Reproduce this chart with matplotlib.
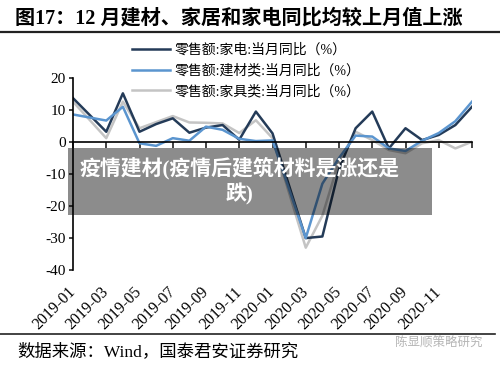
import numpy as np
import matplotlib
matplotlib.use('Agg')
import matplotlib.pyplot as plt
from matplotlib.patches import Rectangle

plt.rcParams['font.family'] = ['Liberation Serif', 'Noto Sans CJK SC']
plt.rcParams['axes.unicode_minus'] = False

# report months (Wind puts each month-end value on the following month's tick)
months = ['2018-12', '2019-02', '2019-03', '2019-04', '2019-05', '2019-06', '2019-07',
          '2019-08', '2019-09', '2019-10', '2019-11', '2019-12', '2020-02', '2020-03',
          '2020-04', '2020-05', '2020-06', '2020-07', '2020-08', '2020-09', '2020-10',
          '2020-11', '2020-12']
appliance = [13.7, 3.2, 15.2, 3.2, 5.6, 7.4, 2.9, 4.5, 5.3, 0.7, 9.5, 2.7, -30.0, -29.5,
             -8.5, 4.3, 9.5, -2.0, 4.3, 0.6, 2.2, 5.3, 11.0]
building = [8.6, 6.7, 11.0, -0.4, -1.2, 1.2, 0.4, 4.8, 3.8, 1.0, 0.3, 0.5, -30.0, -13.0,
            -5.0, 2.0, 1.7, -2.0, -2.8, 0.4, 2.8, 6.5, 12.6]
furniture = [12.6, 1.2, 12.6, 4.3, 6.2, 8.1, 6.1, 6.0, 5.8, 2.8, 6.8, 1.2, -33.0, -23.0,
             -6.0, 3.2, 0.6, -2.5, -3.5, -0.4, 0.6, -2.0, 0.1]
tick_labels = ['2019-01', '2019-03', '2019-05', '2019-07', '2019-09', '2019-11',
               '2020-01', '2020-03', '2020-05', '2020-07', '2020-09', '2020-11', '']
names = ['零售额:家电:当月同比（%）', '零售额:建材类:当月同比（%）', '零售额:家具类:当月同比（%）']
colors = ['#243b58', '#5b95cf', '#c4c4c4']

x = np.array([(int(m[:4]) - 2018) * 12 + int(m[5:]) - 12 for m in months])
tick_pos = np.arange(0, 2 * len(tick_labels), 2)

fig = plt.figure(figsize=(5, 3.66), dpi=100)
ax = fig.add_axes([0.146, 0.262, 0.798, 0.525])

for vals, c, n in zip([appliance, building, furniture], colors, names):
    ax.plot(x, vals, color=c, lw=1.8, label=n)
# draw order: gray at back
for l in ax.lines:
    l.set_zorder(2)
ax.lines[2].set_zorder(1)

ax.set_xlim(0, 24)
ax.set_ylim(-40, 20)
ax.set_yticks([20, 10, 0, -10, -20, -30, -40])
ax.tick_params(axis='y', labelsize=11, length=3, width=1.2, color='#222222', pad=2)
ax.spines['left'].set_linewidth(1.2)
ax.spines['right'].set_visible(False)
ax.spines['top'].set_visible(False)
ax.spines['bottom'].set_position(('data', 0))
ax.spines['bottom'].set_linewidth(1.2)
ax.set_xticks(tick_pos)
ax.tick_params(axis='x', length=4, width=1.2, color='#222222', labelbottom=False)

sec = ax.secondary_xaxis('bottom')
sec.set_xticks(tick_pos, tick_labels, rotation=45, ha='right', va='center',
               rotation_mode='anchor', fontsize=11.5)
sec.tick_params(length=0, pad=14)
sec.spines['bottom'].set_visible(False)

fig.legend(loc='upper left', bbox_to_anchor=(0.238, 0.915), frameon=False,
           fontsize=10, handlelength=2.8, handletextpad=0.3, labelspacing=0.5)

# title and rules
fig.text(0.03, 0.95, '图17：12 月建材、家居和家电同比均较上月值上涨', fontsize=14.5,
         fontweight='bold', va='center', ha='left')
fig.add_artist(plt.Line2D([0, 1], [0.912, 0.912], color='#222222', lw=1.6))
fig.add_artist(plt.Line2D([0, 0.99], [0.088, 0.088], color='#222222', lw=1.2))
fig.text(0.034, 0.038, '数据来源：Wind，国泰君安证券研究', fontsize=12.5, va='center')
fig.text(0.79, 0.063, '陈显顺策略研究', fontsize=9, color='#b5b5b5', va='center')

# overlay banner
fig.add_artist(Rectangle((0.136, 0.413), 0.728, 0.183, transform=fig.transFigure,
                         facecolor='black', alpha=0.45, edgecolor='none', zorder=5))
fig.text(0.478, 0.505, '疫情建材(疫情后建筑材料是涨还是\n跌)', fontsize=15,
         fontweight='bold', color='white', ha='center', va='center',
         multialignment='center', linespacing=1.25, zorder=6)

fig.savefig('out.png', dpi=100)
